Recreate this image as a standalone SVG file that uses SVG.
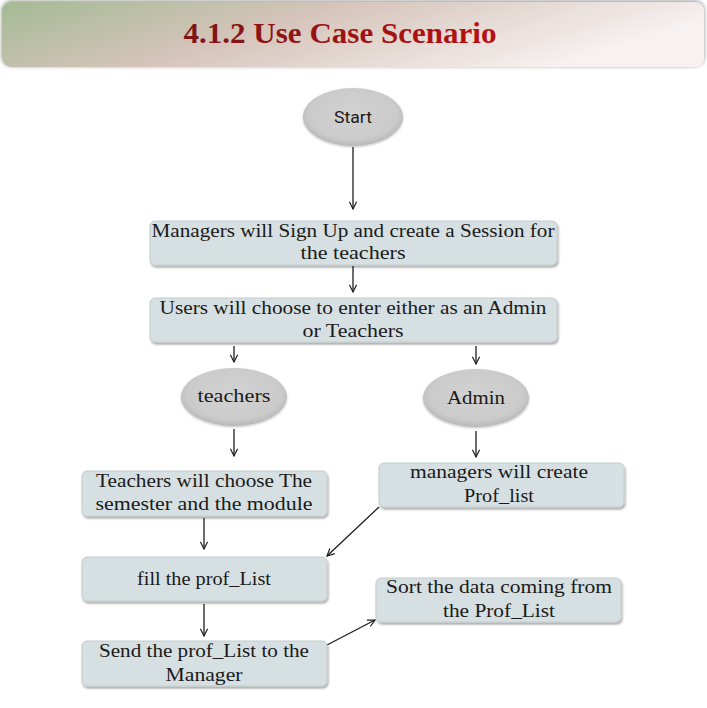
<svg xmlns="http://www.w3.org/2000/svg" width="707" height="708" viewBox="0 0 707 708">
<style>
.box{fill:#d6dfe1;stroke:#c3ccce;stroke-width:1;filter:url(#sh)}
.ell{fill:url(#eg);filter:url(#sh2)}
.t{font-family:"Liberation Serif","Times New Roman",serif;font-size:19px;fill:#1a1a1a;text-anchor:middle}
.s{font-family:"Roboto","Liberation Sans",Arial,sans-serif;font-size:16px;fill:#1a1a1a;text-anchor:middle}
.c{stroke:#1e1e1e;stroke-width:1.3;fill:none;marker-end:url(#ah)}
</style>
<defs>
<linearGradient id="tg" x1="0" y1="0" x2="1" y2="0.3">
<stop offset="0" stop-color="#a4ba94"/>
<stop offset="0.45" stop-color="#d5c4ba"/>
<stop offset="1" stop-color="#f7f1f1"/>
</linearGradient>
<radialGradient id="eg" cx="0.5" cy="0.45" r="0.55">
<stop offset="0" stop-color="#d2d2d2"/>
<stop offset="0.8" stop-color="#cbcbcb"/>
<stop offset="1" stop-color="#b8b8b8"/>
</radialGradient>
<linearGradient id="ttg" x1="0" y1="0" x2="1" y2="0">
<stop offset="0" stop-color="#7d1515"/>
<stop offset="1" stop-color="#b81010"/>
</linearGradient>
<filter id="sh" x="-5%" y="-20%" width="110%" height="150%">
<feDropShadow dx="1" dy="2" stdDeviation="1.3" flood-color="#000" flood-opacity="0.35"/>
</filter>
<filter id="sh2" x="-10%" y="-10%" width="120%" height="130%">
<feDropShadow dx="0" dy="1" stdDeviation="1" flood-color="#000" flood-opacity="0.25"/>
</filter>
<filter id="tsh" x="-2%" y="-10%" width="104%" height="130%">
<feDropShadow dx="0" dy="-1" stdDeviation="2" flood-color="#000" flood-opacity="0.45"/>
</filter>
<marker id="ah" viewBox="0 0 10 10" refX="9" refY="5" markerWidth="9" markerHeight="9" markerUnits="userSpaceOnUse" orient="auto">
<path d="M1,1 L9,5 L1,9" fill="none" stroke="#1e1e1e" stroke-width="1.3"/>
</marker>
</defs>

<g id="title">
<rect x="2" y="2" width="702" height="65" rx="9" fill="url(#tg)" filter="url(#tsh)"/>
<text x="340" y="43" font-family="Liberation Serif,serif" font-weight="bold" font-size="29" fill="url(#ttg)" text-anchor="middle" textLength="313" lengthAdjust="spacingAndGlyphs">4.1.2 Use Case Scenario</text>
</g>

<g id="connectors">
<line class="c" x1="353" y1="147" x2="353" y2="209"/>
<line class="c" x1="353" y1="266" x2="353" y2="292"/>
<line class="c" x1="234" y1="346" x2="234" y2="362"/>
<line class="c" x1="476" y1="346" x2="476" y2="364"/>
<line class="c" x1="234" y1="429" x2="234" y2="456"/>
<line class="c" x1="476" y1="431" x2="476" y2="457"/>
<line class="c" x1="204" y1="518" x2="204" y2="549"/>
<line class="c" x1="379" y1="507" x2="327" y2="556"/>
<line class="c" x1="204" y1="604" x2="204" y2="636"/>
<line class="c" x1="327" y1="645" x2="375" y2="620"/>
</g>

<g id="start">
<ellipse class="ell" cx="353" cy="117" rx="50" ry="29"/>
<text class="s" x="353" y="123" textLength="38" lengthAdjust="spacingAndGlyphs">Start</text>
</g>

<g id="signup">
<rect class="box" x="150" y="221" width="407" height="44" rx="5"/>
<text class="t" x="353" y="237" textLength="403" lengthAdjust="spacingAndGlyphs">Managers will Sign Up and create a Session for</text>
<text class="t" x="353" y="259" textLength="105" lengthAdjust="spacingAndGlyphs">the teachers</text>
</g>

<g id="choose">
<rect class="box" x="150" y="298" width="407" height="44" rx="5"/>
<text class="t" x="353" y="314" textLength="387" lengthAdjust="spacingAndGlyphs">Users will choose to enter either as an Admin</text>
<text class="t" x="353" y="337" textLength="101" lengthAdjust="spacingAndGlyphs">or Teachers</text>
</g>

<g id="teachers">
<ellipse class="ell" cx="234" cy="397" rx="53" ry="29"/>
<text class="t" x="234" y="402" textLength="73" lengthAdjust="spacingAndGlyphs">teachers</text>
</g>

<g id="admin">
<ellipse class="ell" cx="476" cy="398" rx="53" ry="29"/>
<text class="t" x="476" y="404" textLength="58" lengthAdjust="spacingAndGlyphs">Admin</text>
</g>

<g id="teachers-choose">
<rect class="box" x="82" y="471" width="245" height="45" rx="5"/>
<text class="t" x="204" y="487" textLength="216" lengthAdjust="spacingAndGlyphs">Teachers will choose The</text>
<text class="t" x="204" y="510" textLength="217" lengthAdjust="spacingAndGlyphs">semester and the module</text>
</g>

<g id="create-list">
<rect class="box" x="379" y="463" width="245" height="44" rx="5"/>
<text class="t" x="499" y="478" textLength="178" lengthAdjust="spacingAndGlyphs">managers will create</text>
<text class="t" x="499" y="502" textLength="70" lengthAdjust="spacingAndGlyphs">Prof_list</text>
</g>

<g id="fill">
<rect class="box" x="82" y="557" width="245" height="44" rx="5"/>
<text class="t" x="204" y="585" textLength="134" lengthAdjust="spacingAndGlyphs">fill the prof_List</text>
</g>

<g id="send">
<rect class="box" x="82" y="641" width="245" height="45" rx="5"/>
<text class="t" x="204" y="657" textLength="210" lengthAdjust="spacingAndGlyphs">Send the prof_List to the</text>
<text class="t" x="204" y="681" textLength="77" lengthAdjust="spacingAndGlyphs">Manager</text>
</g>

<g id="sort">
<rect class="box" x="376" y="578" width="245" height="44" rx="5"/>
<text class="t" x="499" y="593" textLength="226" lengthAdjust="spacingAndGlyphs">Sort the data coming from</text>
<text class="t" x="499" y="617" textLength="112" lengthAdjust="spacingAndGlyphs">the Prof_List</text>
</g>
</svg>
